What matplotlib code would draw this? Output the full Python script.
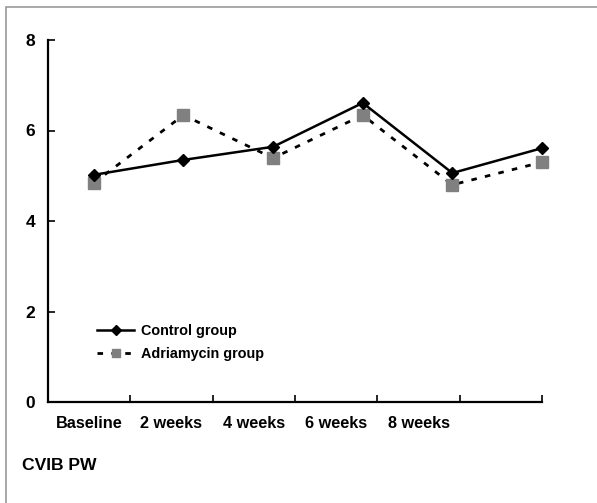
import matplotlib
matplotlib.use('Agg')
import matplotlib.pyplot as plt
import numpy as np

# values
timepoints = ['Baseline', '2 weeks', '4 weeks', '6 weeks', '8 weeks', '']
control = [5.02, 5.35, 5.64, 6.61, 5.06, 5.61]
adriamycin = [4.84, 6.34, 5.39, 6.34, 4.80, 5.30]
y_ticks = [0, 2, 4, 6, 8]

plt.rcParams['font.family'] = ['Liberation Sans', 'DejaVu Sans']
plt.rcParams['font.weight'] = 'bold'

fig = plt.figure(figsize=(5.97, 5.03), dpi=100)
ax = fig.add_axes([48 / 597, 101 / 503, 494 / 597, 362 / 503])

# light grey frame around the panel
fig.patches.append(plt.Rectangle((6 / 597, -0.1), 2, (496 / 503) + 0.1,
                                 transform=fig.transFigure, fill=False,
                                 edgecolor='#999999', linewidth=1.2))

x = np.arange(len(control))
ax.plot(x, control, color='black', linewidth=1.8, marker='D',
        markersize=6.5, markerfacecolor='black', markeredgecolor='black',
        label='Control group', zorder=3, clip_on=False)
ax.plot(x, adriamycin, color='black', linewidth=2.0, dashes=(2, 3),
        marker='s', markersize=8, markerfacecolor='#808080',
        markeredgecolor='#808080', label='Adriamycin group', zorder=2,
        clip_on=False)

# category boundaries do not line up with the points (as in the original)
left = -46 / 90
edges = np.linspace(left, 5, 7)
ax.set_xlim(left, 5)
ax.set_ylim(0, 8)
ax.set_xticks(edges)
ax.set_xticklabels([])
ax.set_xticks((edges[:-1] + edges[1:]) / 2, minor=True)
ax.set_xticklabels(timepoints, minor=True, fontsize=11.7, fontweight='bold')
ax.tick_params(axis='x', which='major', direction='in', length=5,
               width=1.2)
ax.tick_params(axis='x', which='minor', length=0, pad=10)
ax.set_yticks(y_ticks)
ax.set_yticklabels([str(v) for v in y_ticks], fontsize=12.5,
                   fontweight='bold')
ax.tick_params(axis='y', direction='in', length=5, width=1.2, pad=9)

for side in ['top', 'right']:
    ax.spines[side].set_visible(False)
for side in ['left', 'bottom']:
    ax.spines[side].set_linewidth(1.6)

leg = ax.legend(loc='upper left', bbox_to_anchor=(0.087, 0.232),
                frameon=False, fontsize=10.4, handlelength=2.6,
                handletextpad=0.45, labelspacing=0.65, borderaxespad=0,
                markerscale=0.8)

fig.text(22 / 597, 1 - 465 / 503, 'CVIB PW', fontsize=12.6,
         fontweight='bold', va='center', ha='left')

fig.savefig('out.png', dpi=100)
